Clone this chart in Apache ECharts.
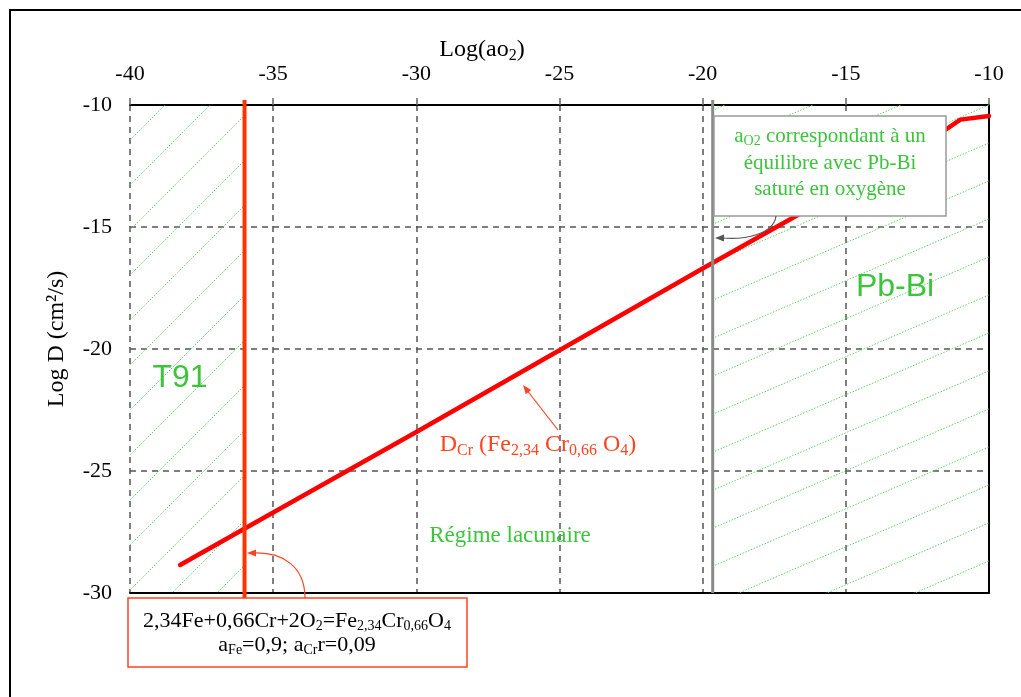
<!DOCTYPE html>
<html><head><meta charset="utf-8">
<script src="https://cdn.jsdelivr.net/npm/echarts@6/dist/echarts.min.js"></script>
<style>html,body{margin:0;padding:0;background:#fff}#c{width:1021px;height:697px}</style>
</head><body><div id="c"></div>
<script>
// ---- data ----
const xTicks = [-40, -35, -30, -25, -20, -15, -10];
const yTicks = [-30, -25, -20, -15, -10];
const dcrX = [-38.25, -35, -30, -25, -20, -15, -11.5, -11, -10];
const dcrY = [-28.85, -26.7, -23.4, -20.05, -16.7, -13.4, -11.0, -10.6, -10.45];
const eqX = -36;               // 2,34Fe+0,66Cr+2O2 = Fe2,34Cr0,66O4 equilibrium
const eqY = [-9.8, -30.2];
const pbbiX = -19.65;          // aO2 in equilibrium with O-saturated Pb-Bi
const pbbiY = [-9.8, -30];
const t91Zone = [-40, -36];
const pbbiZone = [-19.65, -10];

const SERIF = "'Liberation Serif','Times New Roman',serif";
const SANS = "'Liberation Sans',Arial,sans-serif";
const GREEN = '#3cc43c';
const ORANGE = '#ff4422';

function hatch(w, h) {
  const c = document.createElement('canvas'); c.width = w; c.height = h;
  const g = c.getContext('2d');
  g.strokeStyle = '#66d466'; g.lineWidth = 1; g.setLineDash([1.5, 1.5]);
  g.beginPath(); g.moveTo(0, h); g.lineTo(w, 0); g.stroke();
  return c;
}
function head(tx, ty, dx, dy, len, wid) {
  const L = Math.hypot(dx, dy), ux = dx / L, uy = dy / L;
  const bx = tx - ux * len, by = ty - uy * len;
  return [[tx, ty], [bx - uy * wid, by + ux * wid], [bx + uy * wid, by - ux * wid]];
}
function rich(base, sub, color) {
  return {
    b: { fontSize: base, fontFamily: SERIF, fill: color },
    s: { fontSize: sub, fontFamily: SERIF, fill: color, padding: [Math.round(sub * 0.7), 0, 0, 0] }
  };
}
function txt(x, y, text, r, z, extra) {
  return Object.assign({
    type: 'text', x: x, y: y, z: z || 50,
    style: { text: text, rich: r, align: 'center', verticalAlign: 'middle', textAlign: 'center', textVerticalAlign: 'middle' }
  }, extra || {});
}

const chart = echarts.init(document.getElementById('c'));
const gridLine = { show: true, lineStyle: { color: '#555', width: 1.5, type: [6, 5] } };
const labelStyle = { fontFamily: SERIF, fontSize: 22, color: '#000' };

chart.setOption({
  animation: false,
  backgroundColor: '#fff',
  grid: { left: 130, right: 32, top: 105, bottom: 104, containLabel: false },
  xAxis: [
    { type: 'value', position: 'top', min: xTicks[0], max: xTicks[xTicks.length - 1], interval: 5,
      axisLine: { show: true, lineStyle: { color: '#000', width: 2 } },
      axisTick: { show: true, inside: false, length: 7, lineStyle: { color: '#666', width: 1.5 } },
      axisLabel: Object.assign({ margin: 20 }, labelStyle),
      splitLine: gridLine },
    { type: 'value', position: 'bottom', min: xTicks[0], max: xTicks[xTicks.length - 1], interval: 5,
      axisLine: { show: true, onZero: false, lineStyle: { color: '#000', width: 2 } },
      axisTick: { show: false }, axisLabel: { show: false }, splitLine: { show: false } }
  ],
  yAxis: [
    { type: 'value', min: yTicks[0], max: yTicks[yTicks.length - 1], interval: 5,
      axisLine: { show: false }, axisTick: { show: false },
      axisLabel: Object.assign({ margin: 18 }, labelStyle),
      splitLine: gridLine },
    { type: 'value', position: 'right', min: yTicks[0], max: yTicks[yTicks.length - 1], interval: 5,
      axisLine: { show: true, onZero: false, lineStyle: { color: '#000', width: 2 } },
      axisTick: { show: false }, axisLabel: { show: false }, splitLine: { show: false } }
  ],
  series: [
    { type: 'line', data: [], z: 1, silent: true,
      markArea: { silent: true, data: [
        [{ xAxis: t91Zone[0], yAxis: yTicks[yTicks.length - 1], itemStyle: { color: { image: hatch(45, 45), repeat: 'repeat' } } },
         { xAxis: t91Zone[1], yAxis: yTicks[0] }],
        [{ xAxis: pbbiZone[0], yAxis: yTicks[yTicks.length - 1], itemStyle: { color: { image: hatch(88, 38), repeat: 'repeat' } } },
         { xAxis: pbbiZone[1], yAxis: yTicks[0] }]
      ] } },
    { type: 'line', z: 5, data: dcrX.map((x, i) => [x, dcrY[i]]), symbol: 'none', silent: true,
      lineStyle: { color: '#ff0000', width: 4.5, cap: 'round', join: 'round' } },
    { type: 'line', z: 6, clip: false, data: eqY.map(y => [eqX, y]), symbol: 'none', silent: true,
      lineStyle: { color: '#ff3300', width: 4 } },
    { type: 'line', z: 6, clip: false, data: pbbiY.map(y => [pbbiX, y]), symbol: 'none', silent: true,
      lineStyle: { color: '#8a8a8a', width: 3 } }
  ],
  graphic: [
    { type: 'rect', z: 0, shape: { x: 10, y: 10, width: 1100, height: 1000 }, style: { fill: 'none', stroke: '#000', lineWidth: 2 } },
    txt(482, 50, '{b|Log(ao}{s|2}{b|)}', rich(24, 16, '#000')),
    txt(57, 339, '{b|Log D (cm²/s)}', rich(24, 16, '#000'), 50, { rotation: Math.PI / 2 }),
    txt(180, 378, '{t|T91}', { t: { fontSize: 32, fontFamily: SANS, fill: GREEN } }),
    txt(895, 287, '{t|Pb-Bi}', { t: { fontSize: 32, fontFamily: SANS, fill: GREEN } }),
    txt(510, 536, '{b|Régime lacunaire}', rich(23, 15, GREEN)),
    txt(538, 445, '{b|D}{s|Cr}{b| (Fe}{s|2,34}{b| Cr}{s|0,66}{b| O}{s|4}{b|)}', rich(24, 16, ORANGE)),
    { type: 'line', z: 40, shape: { x1: 558, y1: 430, x2: 526, y2: 389 }, style: { stroke: ORANGE, lineWidth: 1.2 } },
    { type: 'polygon', z: 40, shape: { points: head(523, 385, -35, -45, 9, 3.5) }, style: { fill: ORANGE } },
    // top-right box
    { type: 'rect', z: 100, shape: { x: 714, y: 116, width: 232, height: 100 }, style: { fill: '#fff', stroke: '#9a9a9a', lineWidth: 1.5 } },
    txt(830, 136, '{b|a}{s|O2}{b| correspondant à un}', rich(21, 14, GREEN), 101),
    txt(830, 163, '{b|équilibre avec Pb-Bi}', rich(21, 14, GREEN), 101),
    txt(830, 189, '{b|saturé en oxygène}', rich(21, 14, GREEN), 101),
    { type: 'bezierCurve', z: 100, shape: { x1: 776, y1: 216, cpx1: 774, cpy1: 234, cpx2: 745, cpy2: 240, x2: 722, y2: 238 }, style: { stroke: '#555', lineWidth: 1.2, fill: 'none' } },
    { type: 'polygon', z: 100, shape: { points: head(715, 238, -1, 0, 9, 3.5) }, style: { fill: '#555' } },
    // bottom box
    { type: 'rect', z: 100, shape: { x: 128, y: 598, width: 339, height: 69 }, style: { fill: '#fff', stroke: ORANGE, lineWidth: 1.5 } },
    txt(297, 621, '{b|2,34Fe+0,66Cr+2O}{s|2}{b|=Fe}{s|2,34}{b|Cr}{s|0,66}{b|O}{s|4}', rich(22, 14, '#000'), 101),
    txt(297, 645, '{b|a}{s|Fe}{b|=0,9; a}{s|Cr}{b|r=0,09}', rich(22, 14, '#000'), 101),
    { type: 'bezierCurve', z: 100, shape: { x1: 305, y1: 598, cpx1: 305, cpy1: 566, cpx2: 282, cpy2: 552, x2: 254, y2: 553 }, style: { stroke: ORANGE, lineWidth: 1.2, fill: 'none' } },
    { type: 'polygon', z: 100, shape: { points: head(247, 553, -1, 0, 9, 3.5) }, style: { fill: ORANGE } }
  ]
});
</script>
</body></html>
